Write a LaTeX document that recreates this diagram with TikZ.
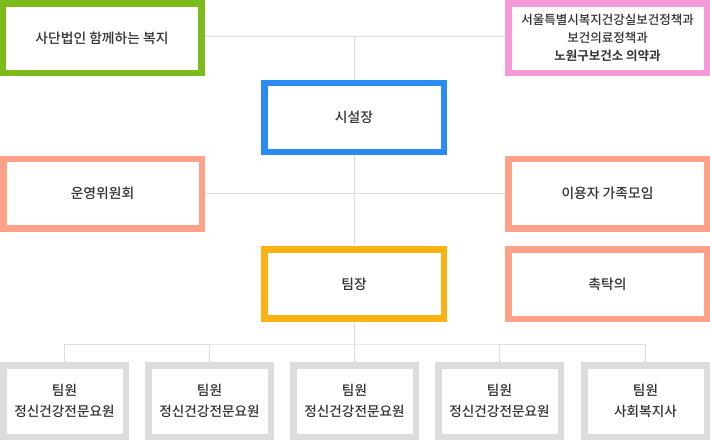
\documentclass[tikz,border=0pt]{standalone}
\usepackage{fontspec}
\setmainfont{Noto Sans CJK KR}[UprightFont=* Medium, BoldFont=* Bold]
\usepackage{tikz}
\usetikzlibrary{positioning, calc}
\definecolor{lawc}{RGB}{125,186,28}
\definecolor{cityc}{RGB}{245,154,216}
\definecolor{headc}{RGB}{42,140,242}
\definecolor{teamc}{RGB}{249,178,19}
\definecolor{sidec}{RGB}{255,160,136}
\definecolor{staffc}{RGB}{220,220,220}
\definecolor{linkc}{RGB}{221,221,221}
\definecolor{textc}{RGB}{51,51,51}

\begin{document}
\begin{tikzpicture}[x=1pt, y=-1pt,
  box/.style={draw=#1, fill=white, line width=6.5pt, inner sep=0pt,
    text=textc, font=\fontsize{13.8}{18}\selectfont, align=center},
  wide/.style={box=#1, minimum width=198.5pt, minimum height=69.5pt},
  mid/.style={box=#1, minimum width=179.5pt, minimum height=69pt},
  small/.style={box=staffc, minimum width=122.5pt, minimum height=71.5pt,
    font=\fontsize{13.6}{21}\selectfont},
  link/.style={draw=linkc, line width=1pt}]
  \useasboundingbox (0,0) rectangle (710,440);

  \node[wide=lawc] (law) at (102,38) {사단법인 함께하는 복지};
  \node[wide=cityc] (city) at (607.5,38)
    {\fontsize{12.5}{21}\selectfont 서울특별시복지건강실보건정책과\\
     \fontsize{12.5}{21}\selectfont 보건의료정책과\\
     \fontsize{12.5}{21}\selectfont\bfseries 노원구보건소 의약과};
  \node[mid=headc] (head) at (354,117.5) {시설장};
  \node[wide=sidec] (board) at (102.5,193.5) {운영위원회};
  \node[wide=sidec] (family) at (607.5,193.5) {이용자 가족모임};
  \node[mid=teamc] (lead) at (354,284) {팀장};
  \node[wide=sidec] (doctor) at (607.5,284) {촉탁의};

  \node[small] (m1) at (64.5,401) {팀원\\정신건강전문요원};
  \node[small] (m2) at (209.5,401) {팀원\\정신건강전문요원};
  \node[small] (m3) at (354.5,401) {팀원\\정신건강전문요원};
  \node[small] (m4) at (499.5,401) {팀원\\정신건강전문요원};
  \node[small] (m5) at (645.5,401) {팀원\\사회복지사};

  \coordinate (top) at (354,36);
  \coordinate (bus) at (354,344);

  \path[link] (law.east |- top) -- (city.west |- top);
  \path[link] (top) -- (head.north);
  \path[link] (head.south) -- (lead.north);
  \path[link] (board.east) -- (family.west);
  \path[link] (lead.south) -- (bus);
  \path[link] (m1.north) |- (bus) -| (m5.north);
  \foreach \m in {m2,m3,m4}
    \path[link] (\m.north) -- (\m.north |- bus);
\end{tikzpicture}
\end{document}
